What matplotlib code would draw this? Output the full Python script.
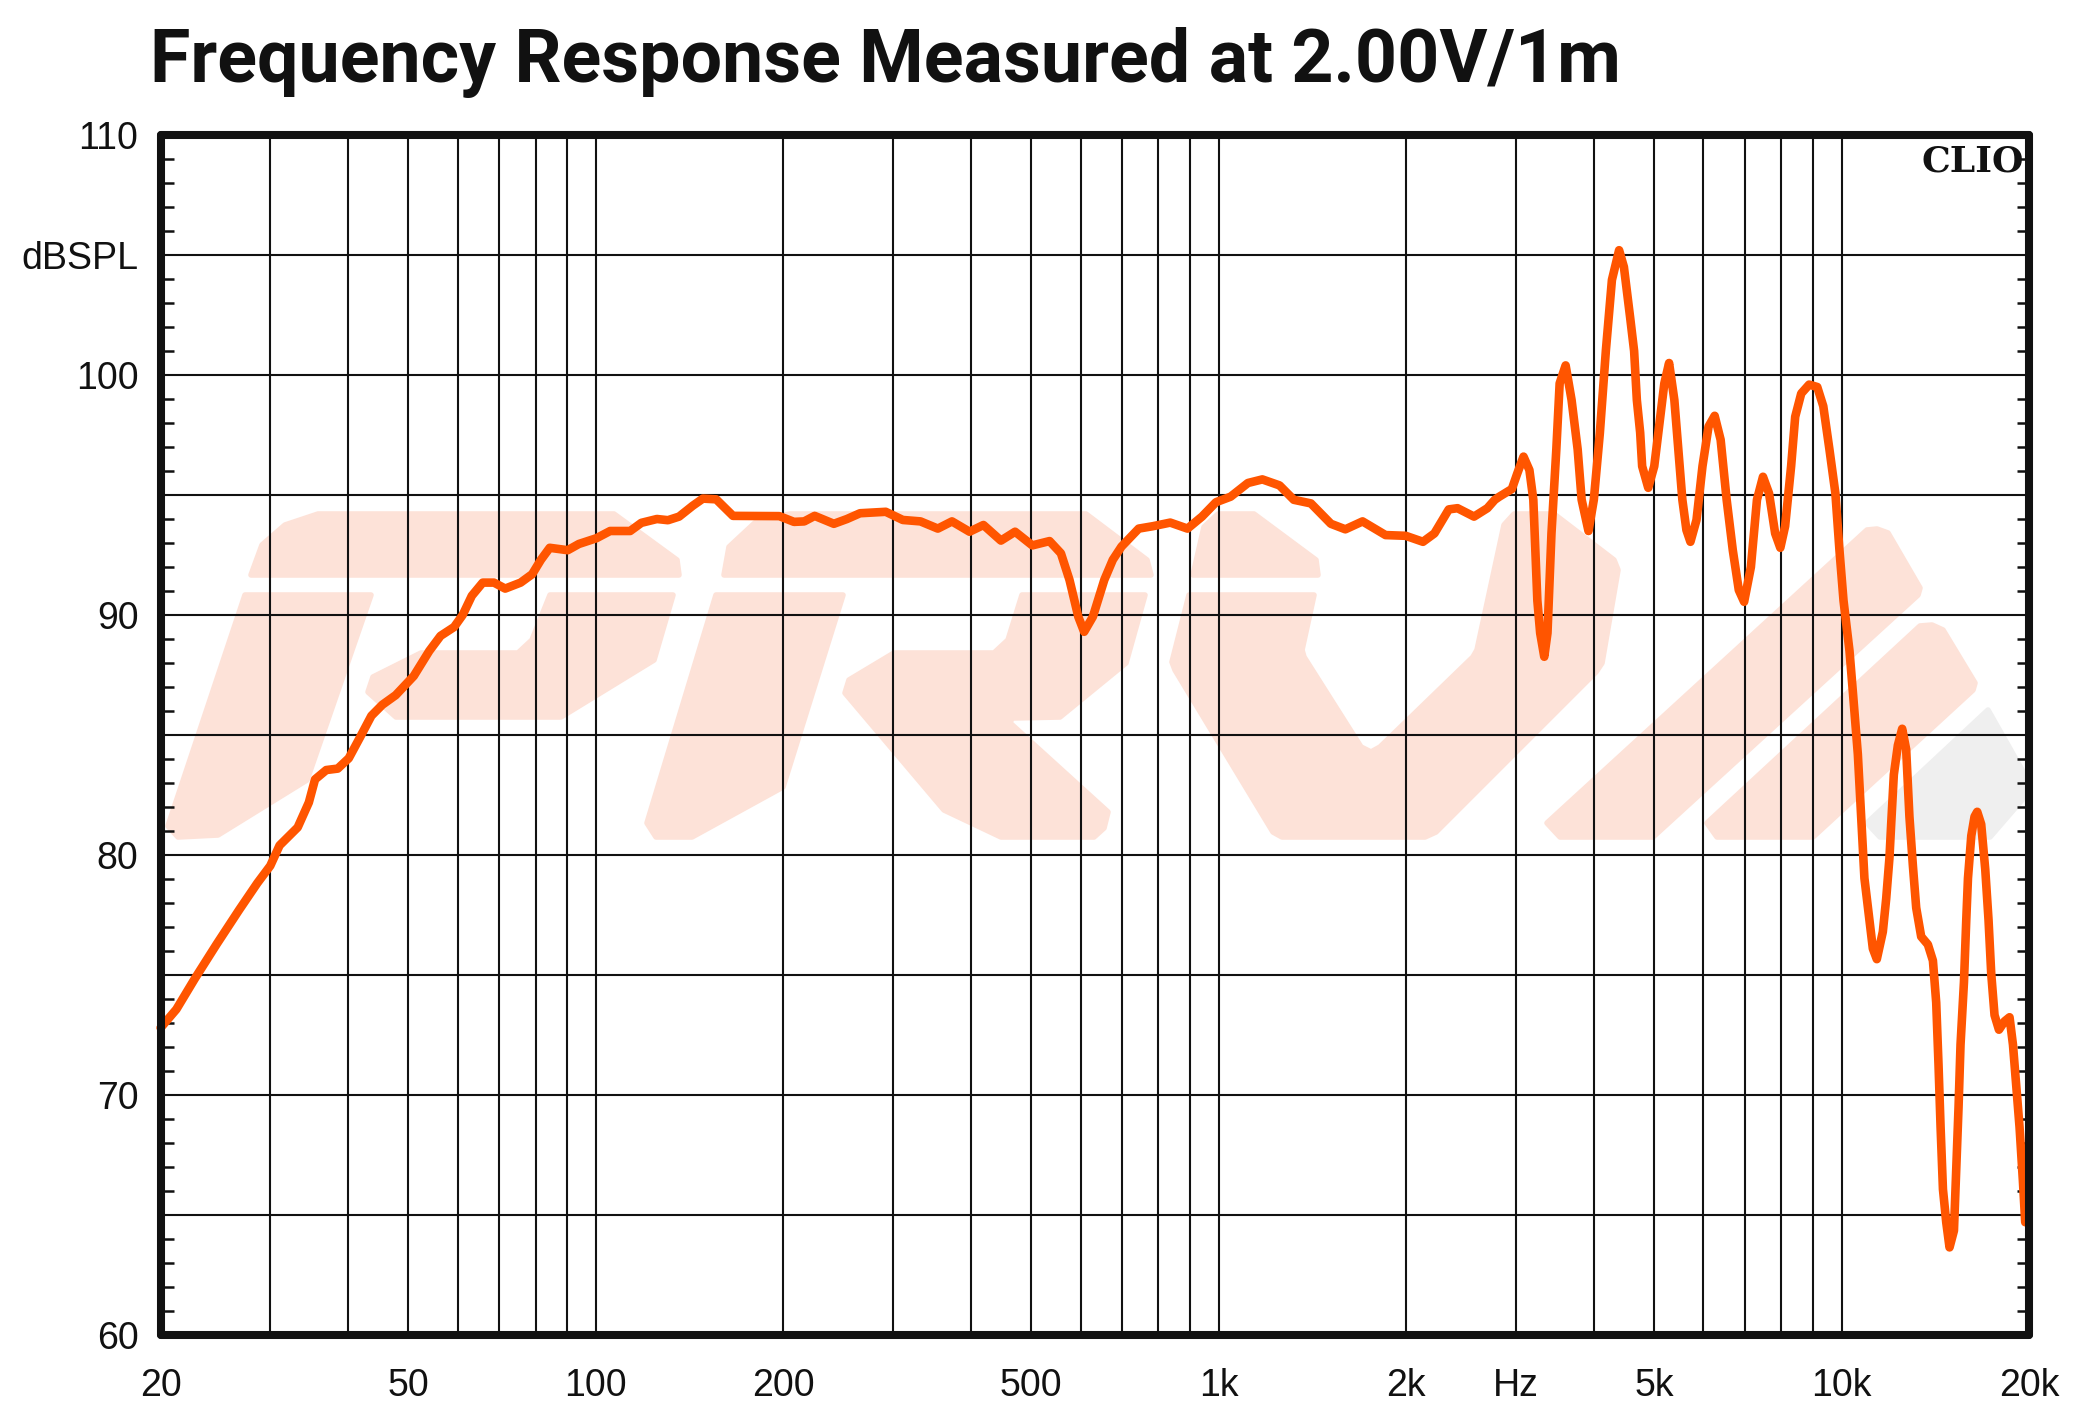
import matplotlib
matplotlib.use("Agg")
import matplotlib.pyplot as plt
from matplotlib.patches import Polygon
from matplotlib.ticker import FixedLocator, MultipleLocator, FuncFormatter, NullLocator

freq = [20.0, 21.2, 22.7, 24.6, 26.75, 28.6, 30.0, 31.05, 33.2, 34.6, 35.4, 36.9, 38.5, 40.1, 41.8,
        43.6, 45.4, 47.7, 51.0, 54.0, 56.3, 59.2, 61.1, 63.2, 65.8, 68.6, 71.5, 75.7, 79.0, 81.6,
        84.3, 90.1, 93.9, 100.2, 105.4, 113.5, 118.3, 125.3, 130.5, 136, 143, 148.5, 156, 166, 197,
        208, 216, 224.5, 241, 253, 265.5, 292, 311, 332, 354, 373, 398, 419, 447, 471, 502, 535,
        558, 576, 595, 608, 628, 655, 676, 698, 744, 784, 836, 891, 940, 990, 1045, 1114, 1175,
        1252, 1320, 1406, 1514, 1597, 1702, 1853, 1996, 2128, 2220, 2341, 2418, 2570, 2700, 2775,
        2822, 2956, 3016, 3086, 3154, 3200, 3224, 3248, 3282, 3332, 3372, 3422, 3484, 3527, 3606,
        3686, 3770, 3826, 3924, 4002, 4092, 4185, 4279, 4394, 4473, 4577, 4645, 4692, 4750, 4785,
        4894, 5004, 5117, 5194, 5286, 5390, 5470, 5552, 5636, 5720, 5850, 5981, 6116, 6256, 6396,
        6540, 6690, 6840, 6976, 7153, 7315, 7480, 7649, 7824, 7975, 8118, 8300, 8426, 8616, 8872,
        9142, 9348, 9563, 9776, 9924, 10074, 10300, 10428, 10622, 10752, 10884, 11087, 11228,
        11394, 11650, 11795, 11940, 12015, 12134, 12316, 12514, 12700, 12854, 13020, 13180,
        13425, 13762, 14020, 14192, 14314, 14423, 14550, 14727, 14908, 15154, 15283, 15414,
        15527, 15725, 15860, 15960, 16157, 16353, 16516, 16760, 17013, 17220, 17393, 17607,
        17897, 18272, 18612, 18848, 19080, 19313, 19554, 19722]
spl = [72.8, 73.57, 74.85, 76.28, 77.72, 78.83, 79.55, 80.4, 81.15, 82.19, 83.15, 83.54, 83.6, 84.03, 84.9,
       85.8, 86.26, 86.66, 87.46, 88.5, 89.13, 89.5, 90.0, 90.8, 91.35, 91.35, 91.1, 91.35, 91.7, 92.3,
       92.8, 92.7, 92.96, 93.2, 93.5, 93.5, 93.84, 94.0, 93.95, 94.1, 94.55, 94.85, 94.82, 94.13, 94.12,
       93.88, 93.9, 94.13, 93.8, 94.0, 94.24, 94.3, 93.96, 93.9, 93.6, 93.9, 93.47, 93.75, 93.1, 93.47, 92.9, 93.08,
       92.57, 91.46, 89.93, 89.3, 89.93, 91.46, 92.3, 92.85, 93.6, 93.7, 93.85, 93.6, 94.1, 94.7, 94.93, 95.5, 95.65,
       95.4, 94.8, 94.65, 93.8, 93.57, 93.9, 93.33, 93.3, 93.05, 93.4, 94.4, 94.45, 94.1, 94.45, 94.8,
       94.93, 95.25, 95.9, 96.6, 96.04, 94.8, 92.7, 90.6, 89.25, 88.26, 89.25, 93.4, 96.9, 99.65, 100.4,
       98.96, 96.9, 94.8, 93.5, 94.8, 97.57, 101.04, 103.96, 105.2, 104.5, 102.4, 101.0, 98.96, 97.6, 96.2,
       95.3, 96.2, 98.26, 99.65, 100.5, 98.96, 96.9, 94.8, 93.54, 93.05, 93.96, 96.2, 97.85, 98.3, 97.3,
       94.8, 92.7, 91.04, 90.55, 92.0, 94.8, 95.76, 95.07, 93.4, 92.8, 93.7, 96.2, 98.26, 99.23, 99.6,
       99.5, 98.7, 96.9, 95.07, 92.7, 90.6, 88.5, 86.8, 84.2, 81.6, 79.03, 77.3, 76.1,
       75.66, 76.8, 78.17, 79.9, 81.28, 83.35, 84.57, 85.26, 84.4, 81.6, 79.55, 77.8,
       76.6, 76.27, 75.6, 73.85, 71.25, 68.66, 66.07, 64.7, 63.65, 64.35, 66.93, 69.5,
       72.1, 74.7, 77.3, 79.03, 80.8, 81.6, 81.8, 81.28, 79.4, 77.3, 75.06, 73.33,
       72.72, 73.07, 73.24, 72.1, 70.39, 68.66, 66.42, 64.7]

x_grid = [20, 30, 40, 50, 60, 70, 80, 90, 100, 200, 300, 400, 500, 600, 700, 800, 900,
          1000, 2000, 3000, 4000, 5000, 6000, 7000, 8000, 9000, 10000, 20000]
x_labels = {20: "20", 50: "50", 100: "100", 200: "200", 500: "500", 1000: "1k", 2000: "2k",
            3000: "Hz", 5000: "5k", 10000: "10k", 20000: "20k"}
y_labels = {60: "60", 70: "70", 80: "80", 90: "90", 100: "100", 105: "dBSPL", 110: "110"}

W, H = 2081, 1419
fig = plt.figure(figsize=(W / 100, H / 100), dpi=100)
L, R, T, B = 160.6, 2029.0, 135.0, 1335.0
ax = fig.add_axes([L / W, 1 - B / H, (R - L) / W, (B - T) / H])

def px(x, y):
    # full-size pixel -> axes fraction
    return ((x - L) / (R - L), (B - y) / (B - T))

# background logo (decoration)
pink = "#FDE2D8"
logo = [
    [(251, 575), (262, 545), (285, 525), (318, 514), (614, 514), (677, 560), (679, 575)],
    [(245, 595), (371, 595), (307, 780), (218, 835), (178, 837), (168, 826)],
    [(550, 595), (673, 595), (654, 660), (561, 717), (396, 717), (368, 692), (373, 677),
     (421, 653), (518, 653), (532, 640)],
    [(724, 575), (729, 547), (758, 520), (790, 514), (1086, 514), (1147, 560), (1151, 575)],
    [(716, 595), (843, 595), (783, 787), (692, 837), (656, 837), (647, 823)],
    [(1022, 595), (1145, 595), (1126, 663), (1060, 717), (1012, 718), (1010, 723), (1108, 812),
     (1104, 828), (1094, 837), (1001, 837), (944, 810), (845, 693), (849, 680), (894, 653),
     (994, 653), (1008, 640)],
    [(1193, 575), (1204, 527), (1218, 514), (1254, 514), (1316, 560), (1318, 575)],
    [(1189, 595), (1314, 595), (1302, 650), (1304, 657), (1361, 747), (1371, 752), (1380, 747),
     (1473, 657), (1477, 650), (1504, 525), (1514, 514), (1554, 514), (1614, 560), (1618, 570),
     (1602, 663), (1596, 672), (1436, 832), (1425, 837), (1282, 837), (1273, 832), (1175, 670),
     (1172, 662)],
    [(1547, 823), (1560, 837), (1653, 837), (1918, 595), (1920, 588), (1888, 533), (1877, 529),
     (1867, 530)],
    [(1707, 823), (1717, 837), (1813, 837), (1973, 690), (1975, 683), (1943, 630), (1932, 625),
     (1920, 626)],
]
for shape in logo:
    ax.add_patch(Polygon([px(*p) for p in shape], closed=True, transform=ax.transAxes,
                         facecolor=pink, edgecolor=pink, lw=4, joinstyle="round", zorder=0.2))
gray = [(1867, 823), (1880, 837), (1990, 837), (2022, 800), (2026, 777), (1988, 710)]
ax.add_patch(Polygon([px(*p) for p in gray], closed=True, transform=ax.transAxes,
                     facecolor="#EFEFEF", edgecolor="#EFEFEF", lw=4, joinstyle="round", zorder=0.2))

ax.plot(freq, spl, color="#FF5500", lw=6.2, solid_joinstyle="round", solid_capstyle="round",
        zorder=3, clip_on=False)

ax.set_xscale("log")
ax.set_xlim(20, 20000)
ax.set_ylim(60, 110)

ax.xaxis.set_major_locator(FixedLocator(x_grid))
ax.xaxis.set_major_formatter(FuncFormatter(lambda v, p: x_labels.get(int(round(v)), "")))
ax.xaxis.set_minor_locator(NullLocator())
ax.yaxis.set_major_locator(MultipleLocator(5))
ax.yaxis.set_major_formatter(FuncFormatter(lambda v, p: y_labels.get(int(round(v)), "")))
ax.yaxis.set_minor_locator(MultipleLocator(1))

ax.set_axisbelow(True)
ax.grid(True, which="major", color="#111111", lw=1.5)
ax.tick_params(axis="both", which="major", length=0, labelsize=27, colors="#111111")
ax.tick_params(axis="x", which="major", pad=24)
ax.tick_params(axis="y", which="major", pad=16)
ax.tick_params(axis="y", which="minor", direction="in", length=9, width=1.8,
               left=True, right=True, color="#111111")
for lab in ax.get_xticklabels() + ax.get_yticklabels():
    lab.set_family(["Liberation Sans", "DejaVu Sans"])

for s in ax.spines.values():
    s.set_linewidth(5.8)
    s.set_color("#111111")
    s.set_joinstyle("round")
    s.set_capstyle("round")
    s.set_zorder(4)

ax.text(0.9975, 0.992, "CLIO", transform=ax.transAxes, ha="right", va="top",
        fontsize=26, fontweight="bold", family=["DejaVu Serif"], color="#111111", zorder=5)

fig.text(150 / W, 1 - 82 / H, "Frequency Response Measured at 2.00V/1m", ha="left",
         va="baseline", fontsize=53, fontweight="bold", family=["Roboto", "DejaVu Sans"],
         color="#111111")

fig.savefig("out.png", dpi=100, facecolor="white")
